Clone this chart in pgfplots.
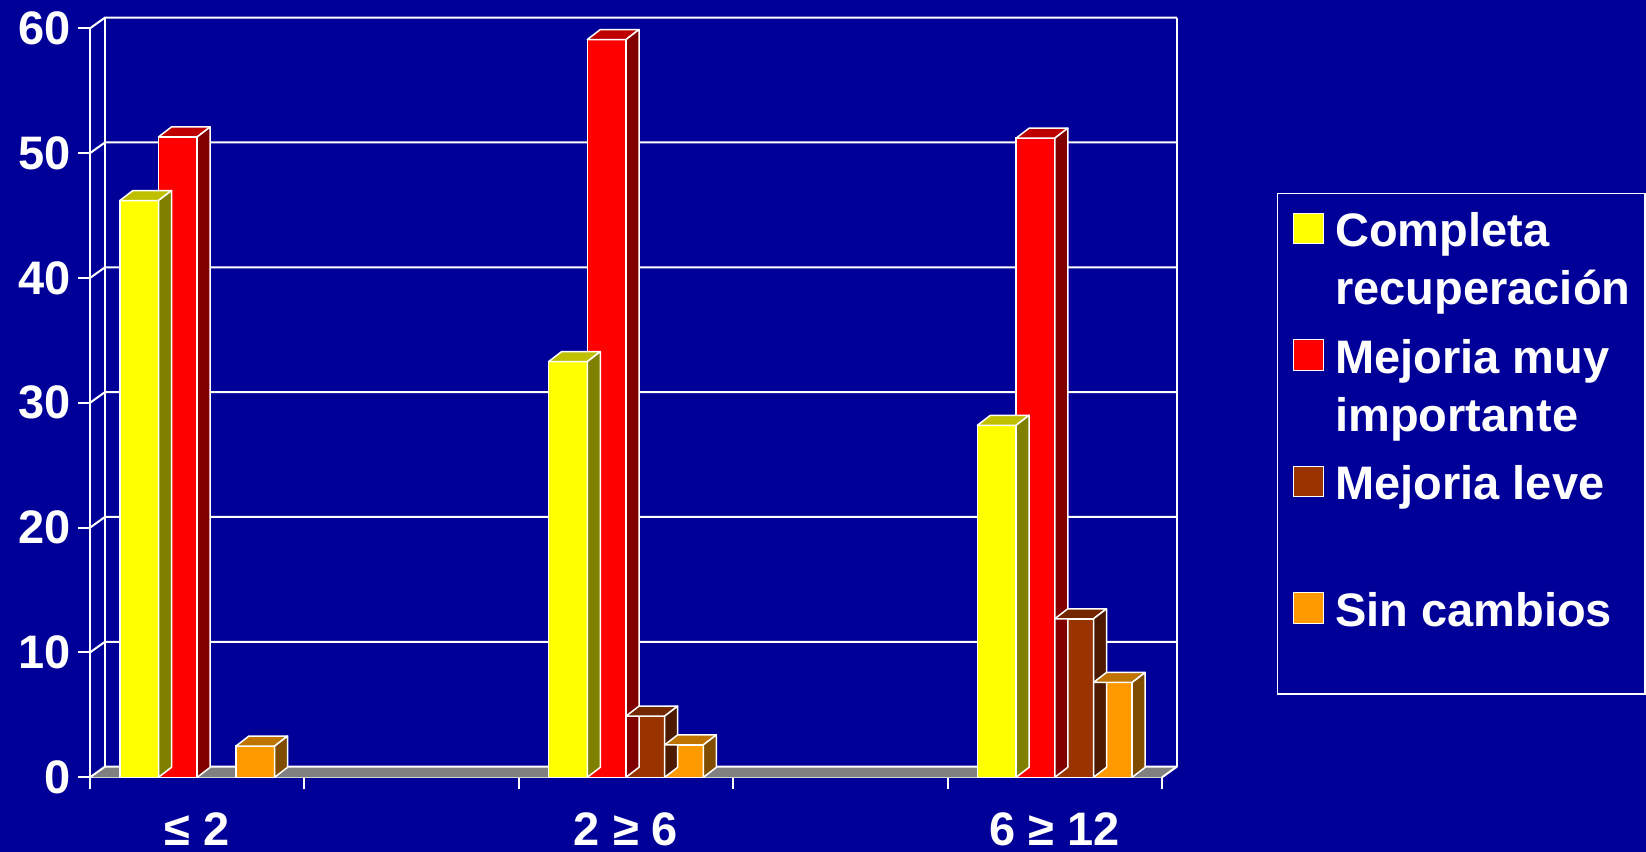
\documentclass[border=0pt]{standalone}
\usepackage{fontspec}
\setmainfont{Liberation Sans}
\usepackage{pgfplots}
\pgfplotsset{compat=1.18}
\usepackage{pgfplotstable}
\usepackage{array}

\definecolor{bgblue}{HTML}{000099}
\definecolor{cyel}{HTML}{FFFF00}
\definecolor{cyelT}{HTML}{BFBF00}
\definecolor{cyelS}{HTML}{808000}
\definecolor{cred}{HTML}{FF0000}
\definecolor{credT}{HTML}{BF0000}
\definecolor{credS}{HTML}{800000}
\definecolor{cbro}{HTML}{993300}
\definecolor{cbroT}{HTML}{732600}
\definecolor{cbroS}{HTML}{4D1A00}
\definecolor{cora}{HTML}{FF9900}
\definecolor{coraT}{HTML}{BF7300}
\definecolor{coraS}{HTML}{804D00}
\definecolor{floorgray}{HTML}{808080}

\newcommand\bigfont{\fontsize{23.5}{29}\selectfont\bfseries}
\newcommand\legentry[2]{\begin{tabular}[t]{@{}p{147.1pt}@{}}#1\\#2\end{tabular}}

\def\bw{19.35}
\def\ddx{6.5}
\def\ddy{5}
\def\yu{6.2415}

% category positions: slots of width 1, categories in slots 0, 2, 4
\pgfplotstableread{
cat  completa muy  leve sin
0.5  46.2     51.3 0    2.5
2.5  33.3     59.1 4.9  2.6
4.5  28.2     51.2 12.7 7.6
}\data

\pgfplotsset{
  legsq/.style={legend image code/.code={\filldraw[fill=#1, draw=white, line width=0.5pt] (0pt,1.6pt) rectangle (15.3pt,16.8pt);}},
  front/.style n args={2}{ybar, bar width=\bw pt, bar shift=#1pt, fill=#2, draw=white, line width=0.75pt, restrict y to domain=0.01:1000, legsq=#2},
  faces/.style n args={3}{%
    forget plot, scatter, only marks, mark=*, mark size=0pt,
    mark options={draw=none, fill=none},
    restrict y to domain=0.01:1000,
    visualization depends on={rawy \as \ry},
    scatter/@pre marker code/.code={%
      \pgfmathsetmacro\xl{#1-\bw/2}%
      \pgfmathsetmacro\xr{#1+\bw/2}%
      \pgfmathsetmacro\hh{\ry*\yu}%
      \filldraw[fill=#2, draw=white, line width=0.75pt, line join=round]
        (\xl pt,0pt) -- (\xr pt,0pt) -- (\xr pt+\ddx pt,\ddy pt) -- (\xl pt+\ddx pt,\ddy pt) -- cycle;
      \filldraw[fill=#3, draw=white, line width=0.75pt, line join=round]
        (\xr pt,0pt) -- (\xr pt+\ddx pt,\ddy pt) -- (\xr pt+\ddx pt,\ddy pt-\hh pt) -- (\xr pt,-\hh pt) -- cycle;
    },
    scatter/@post marker code/.code={},
  },
}

\begin{document}
\begin{tikzpicture}
\fill[bgblue] (0,0) rectangle (823pt,426pt);
\begin{axis}[
  at={(45pt,37.35pt)}, anchor=south west,
  x=107.2pt, y=6.2415pt,
  xmin=0, xmax=5, ymin=0, ymax=60,
  clip=false,
  axis x line*=bottom, axis y line*=left,
  axis line style={white, line width=1pt, -},
  tick align=outside,
  major tick length=6pt,
  major tick style={white, line width=1pt},
  ytick={0,10,20,30,40,50,60},
  xtick={0,1,2,3,4,5},
  xticklabels={,,,,,},
  extra x ticks={0.5,2.5,4.5},
  extra x tick labels={≤ 2,2 ≥ 6,6 ≥ 12},
  extra x tick style={major tick length=0pt},
  /pgf/number format/assume math mode=true,
  ticklabel style={font=\bigfont, text=white},
  yticklabel style={anchor=east, inner sep=0pt, xshift=-3.5pt},
  xticklabel style={anchor=base, inner sep=0pt, yshift=-34pt},
  legend style={
    at={(1.10755,0.77971)}, anchor=north west,
    draw=white, line width=0.75pt, fill=none, text=white,
    font=\bigfont,
    inner xsep=7.7pt, inner ysep=6.4pt, outer sep=0pt,
    row sep=5.3pt, column sep=5.5pt,
    cells={anchor=base west},
    nodes={inner sep=0pt, text depth={}, text height={}, text=white},
  },
]
% floor and walls
\fill[floorgray] (axis cs:0,0) -- (axis cs:5,0) -- ([shift={(7.5pt,5.35pt)}]axis cs:5,0) -- ([shift={(7.5pt,5.35pt)}]axis cs:0,0) -- cycle;
\draw[white, line width=1pt] (axis cs:5,0) -- ([shift={(7.5pt,5.35pt)}]axis cs:5,0);
\pgfplotsinvokeforeach{0,10,20,30,40,50,60}{
  \draw[white, line width=1pt] (axis cs:0,#1) -- ([shift={(7.5pt,5.35pt)}]axis cs:0,#1) -- ([shift={(7.5pt,5.35pt)}]axis cs:5,#1);
}
\draw[white, line width=1pt] ([shift={(7.5pt,5.35pt)}]axis cs:0,0) -- ([shift={(7.5pt,5.35pt)}]axis cs:0,60);
\draw[white, line width=1pt] ([shift={(7.5pt,5.35pt)}]axis cs:5,0) -- ([shift={(7.5pt,5.35pt)}]axis cs:5,60);

\addplot[front={-29.025}{cyel}] table[x=cat, y=completa]{\data};
\addlegendentry{\legentry{Completa}{recuperación}}
\addplot[faces={-29.025}{cyelT}{cyelS}] table[x=cat, y=completa]{\data};

\addplot[front={-9.675}{cred}] table[x=cat, y=muy]{\data};
\addlegendentry{\legentry{Mejoria muy}{importante}}
\addplot[faces={-9.675}{credT}{credS}] table[x=cat, y=muy]{\data};

\addplot[front={9.675}{cbro}] table[x=cat, y=leve]{\data};
\addlegendentry{\legentry{Mejoria leve}{\mbox{}}}
\addplot[faces={9.675}{cbroT}{cbroS}] table[x=cat, y=leve]{\data};

\addplot[front={29.025}{cora}] table[x=cat, y=sin]{\data};
\addlegendentry{\begin{tabular}[t]{@{}p{147.1pt}@{}}Sin cambios\rule[-27.25pt]{0pt}{0pt}\end{tabular}}
\addplot[faces={29.025}{coraT}{coraS}] table[x=cat, y=sin]{\data};
\end{axis}
\pgfresetboundingbox
\path[use as bounding box] (0,0) rectangle (823pt,426pt);
\end{tikzpicture}
\end{document}
